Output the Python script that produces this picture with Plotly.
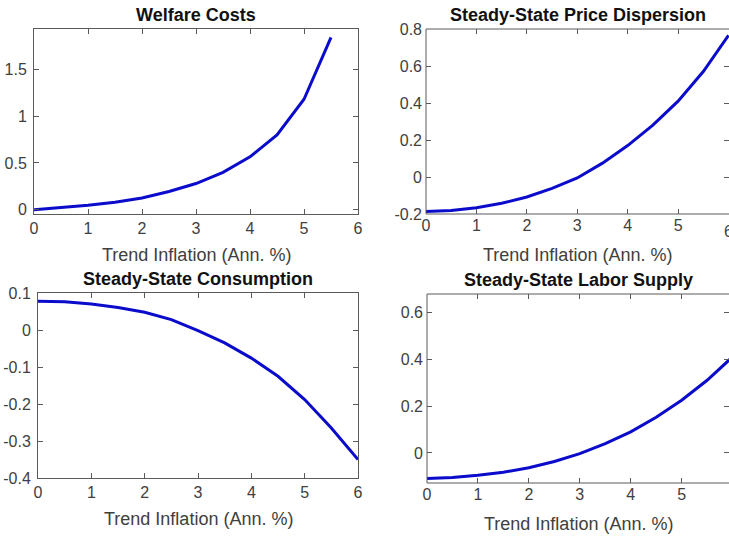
import plotly.graph_objects as go

# trend inflation grid (annualised %)
infl = [0, 0.5, 1, 1.5, 2, 2.5, 3, 3.5, 4, 4.5, 5, 5.5, 6]

welfare_x = [0, 0.5, 1, 1.5, 2, 2.5, 3, 3.5, 4, 4.5, 5, 5.5]
welfare = [0.0, 0.02, 0.048, 0.08, 0.125, 0.195, 0.28, 0.40, 0.565, 0.80, 1.18, 1.84]

price_disp = [-0.187, -0.181, -0.166, -0.142, -0.108, -0.062, -0.005, 0.075, 0.17, 0.28, 0.41, 0.57, 0.765]
consumption = [0.078, 0.0765, 0.070, 0.061, 0.048, 0.028, -0.002, -0.035, -0.076, -0.125, -0.188, -0.265, -0.35]
labor = [-0.109, -0.105, -0.095, -0.082, -0.063, -0.036, -0.003, 0.04, 0.09, 0.152, 0.225, 0.31, 0.41]

titles = ["Welfare Costs", "Steady-State Price Dispersion",
          "Steady-State Consumption", "Steady-State Labor Supply"]
xlab = "Trend Inflation (Ann. %)"
xtick_vals = [0, 1, 2, 3, 4, 5, 6]
ytick_vals = [[0, 0.5, 1, 1.5], [-0.2, 0, 0.2, 0.4, 0.6, 0.8],
              [-0.4, -0.3, -0.2, -0.1, 0, 0.1], [0, 0.2, 0.4, 0.6]]

W, H = 729, 536
BLUE = "#0b0bcc"
AXC = "#5a5a5a"
TXT = "#404040"
FONT = "Liberation Sans, Arial, sans-serif"

# plot boxes in pixels: left, right, top, bottom (right panels run off the edge)
boxes = [(34, 358, 29, 214), (426, 729, 29, 214),
         (38, 358, 293, 478), (427, 729, 294, 483)]
xranges = [[0, 6], [0, 6.01], [0, 6], [0, 5.93]]
yranges = [[-0.045, 1.93], [-0.2, 0.8], [-0.4, 0.1], [-0.128, 0.678]]
series = [(welfare_x, welfare), (infl, price_disp), (infl, consumption), (infl, labor)]


def lab(v):
    return "%g" % v  # plain hyphen for negatives, like the original


fig = go.Figure()
annotations = []
shapes = []
for i, ((l, r, t, b), (xs, ys)) in enumerate(zip(boxes, series)):
    n = "" if i == 0 else str(i + 1)
    right_panel = i % 2 == 1
    fig.add_trace(go.Scatter(x=xs, y=ys, mode="lines", line=dict(color=BLUE, width=3),
                             xaxis="x" + n, yaxis="y" + n, showlegend=False))
    common = dict(ticks="inside", ticklen=5, tickcolor=AXC, showgrid=False, zeroline=False,
                  automargin=False, tickfont=dict(size=16, color=TXT, family=FONT),
                  showline=not right_panel, linecolor=AXC, linewidth=1, mirror="ticks")
    fig.update_layout({
        "xaxis" + n: dict(domain=[l / W, r / W], range=xranges[i], tickvals=xtick_vals,
                          ticktext=[lab(v) for v in xtick_vals], anchor="y" + n, **common),
        "yaxis" + n: dict(domain=[1 - b / H, 1 - t / H], range=yranges[i], tickvals=ytick_vals[i],
                          ticktext=[lab(v) for v in ytick_vals[i]], ticklabelstandoff=3,
                          anchor="x" + n, **common),
    })
    if right_panel:
        # frame continues past the right edge of the picture
        shapes.append(dict(type="rect", xref="x" + n + " domain", yref="y" + n + " domain",
                           x0=0, x1=1.01, y0=0, y1=1, line=dict(color=AXC, width=1)))
    cx = (l + r) / 2 / W
    annotations.append(dict(text="<b>" + titles[i] + "</b>", x=cx, y=1 - (t - 14) / H,
                            xref="paper", yref="paper", xanchor="center", yanchor="middle",
                            showarrow=False, font=dict(size=18, color="#111111", family=FONT)))
    annotations.append(dict(text=xlab, x=cx, y=1 - (b + 41) / H,
                            xref="paper", yref="paper", xanchor="center", yanchor="middle",
                            showarrow=False, font=dict(size=18, color=TXT, family=FONT)))

# the last x tick label of the price-dispersion panel is half cut off by the edge
annotations.append(dict(text="6", x=6, xref="x2", y=1 - 231 / H, yref="paper",
                        xanchor="center", yanchor="middle", showarrow=False,
                        font=dict(size=16, color=TXT, family=FONT)))

fig.update_layout(width=W, height=H, margin=dict(l=0, r=0, t=0, b=0),
                  paper_bgcolor="white", plot_bgcolor="white",
                  annotations=annotations, shapes=shapes)
fig.write_html("out.html", config={"displayModeBar": False},
               post_script="document.body.style.margin='0px';")
